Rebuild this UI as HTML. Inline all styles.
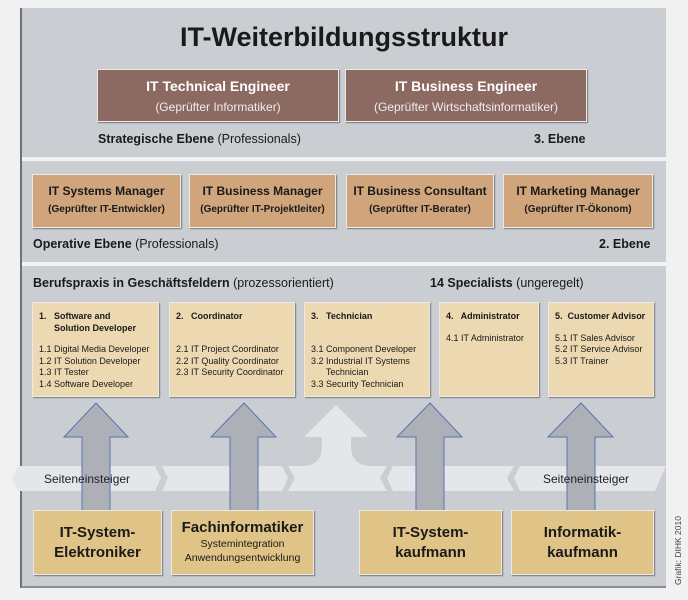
<!DOCTYPE html>
<html><head><meta charset="utf-8"><style>
*{margin:0;padding:0;box-sizing:border-box}
body{width:688px;height:600px;background:#f1f1f1;position:relative;overflow:hidden;font-family:"Liberation Sans",sans-serif;color:#1a1a1a}
.a{position:absolute}
.panel{left:20px;top:8px;width:646px;height:580px;background:#cacdd2;border-left:2px solid #6e7176;border-bottom:2px solid #8a8d92}
.sep{left:22px;width:644px;height:4px;background:#f1f2f3}
.b{position:absolute;text-align:center;box-shadow:1px 1px 1px #77797c;border:1px solid #eceae6;white-space:nowrap;overflow:hidden}
.top{background:#8c6a62;color:#fff;font-weight:bold;font-size:14px;line-height:20px;padding-top:6px}
.top span{font-weight:normal;font-size:12px;color:#eee}
.mid{background:#d0a57c;font-weight:bold;font-size:12px;line-height:17px;padding-top:8px}
.mid span{font-size:10px}
.sp{background:#ecd9b1;font-size:9px;line-height:11.5px;padding:8px 0 0 6px;text-align:left}
.sp b{display:block;margin-bottom:10px}
.bot{background:#dfc387;font-weight:bold;font-size:15px;line-height:20px}
.bot span{font-weight:normal;font-size:10.5px;line-height:14px;display:block}
.lbl{font-size:12.5px;font-weight:bold}
.lbl span{font-weight:normal}
</style></head><body>
<div class="a panel"></div>
<div class="a sep" style="top:157px"></div>
<div class="a sep" style="top:262px"></div>
<div class="a" style="left:0;width:688px;top:22px;text-align:center;font-size:27px;font-weight:bold;">IT-Weiterbildungsstruktur</div>

<div class="b top" style="left:97px;top:69px;width:242px;height:53px">IT Technical Engineer<br><span>(Geprüfter Informatiker)</span></div>
<div class="b top" style="left:345px;top:69px;width:242px;height:53px">IT Business Engineer<br><span>(Geprüfter Wirtschaftsinformatiker)</span></div>
<div class="a lbl" style="left:98px;top:132px">Strategische Ebene <span>(Professionals)</span></div>
<div class="a lbl" style="left:534px;top:132px">3. Ebene</div>

<div class="b mid" style="left:32px;top:174px;width:149px;height:54px">IT Systems Manager<br><span>(Geprüfter IT-Entwickler)</span></div>
<div class="b mid" style="left:189px;top:174px;width:147px;height:54px">IT Business Manager<br><span>(Geprüfter IT-Projektleiter)</span></div>
<div class="b mid" style="left:346px;top:174px;width:148px;height:54px">IT Business Consultant<br><span>(Geprüfter IT-Berater)</span></div>
<div class="b mid" style="left:503px;top:174px;width:150px;height:54px">IT Marketing Manager<br><span>(Geprüfter IT-Ökonom)</span></div>
<div class="a lbl" style="left:33px;top:237px">Operative Ebene <span>(Professionals)</span></div>
<div class="a lbl" style="left:599px;top:237px">2. Ebene</div>

<div class="a lbl" style="left:33px;top:276px">Berufspraxis in Geschäftsfeldern <span>(prozessorientiert)</span></div>
<div class="a lbl" style="left:430px;top:276px">14 Specialists <span>(ungeregelt)</span></div>

<div class="b sp" style="left:32px;top:302px;width:127px;height:95px"><b>1.&nbsp;&nbsp; Software and<br>&nbsp;&nbsp;&nbsp;&nbsp;&nbsp; Solution Developer</b>1.1 Digital Media Developer<br>1.2 IT Solution Developer<br>1.3 IT Tester<br>1.4 Software Developer</div>
<div class="b sp" style="left:169px;top:302px;width:126px;height:95px"><b>2.&nbsp;&nbsp; Coordinator<br>&nbsp;</b>2.1 IT Project Coordinator<br>2.2 IT Quality Coordinator<br>2.3 IT Security Coordinator</div>
<div class="b sp" style="left:304px;top:302px;width:126px;height:95px"><b>3.&nbsp;&nbsp; Technician<br>&nbsp;</b>3.1 Component Developer<br>3.2 Industrial IT Systems<br>&nbsp;&nbsp;&nbsp;&nbsp;&nbsp; Technician<br>3.3 Security Technician</div>
<div class="b sp" style="left:439px;top:302px;width:100px;height:95px"><b>4.&nbsp;&nbsp; Administrator</b>4.1 IT Administrator</div>
<div class="b sp" style="left:548px;top:302px;width:106px;height:95px"><b>5.&nbsp; Customer Advisor</b>5.1 IT Sales Advisor<br>5.2 IT Service Advisor<br>5.3 IT Trainer</div>

<svg class="a" style="left:0;top:0" width="688" height="600">
<path d="M322,450 V437 H304 L336,405 L368,437 H351 V450 Z" fill="#e4e6e9"/>
<path d="M322,446 Q322,466 302,466 H371 Q351,466 351,446 Z" fill="#e4e6e9"/>
<polygon points="5,466 655,466 666,466 655,491 5,491 18,478" fill="#e4e6e9"/>
<polygon points="155,466 162,466 168,478 162,491 155,491 161,478" fill="#cacdd2"/>
<polygon points="282,466 288,466 295,478 288,491 282,491 288,478" fill="#cacdd2"/>
<polygon points="393,466 387,466 380,478 387,491 393,491 387,478" fill="#cacdd2"/>
<polygon points="520,466 514,466 507,478 514,491 520,491 514,478" fill="#cacdd2"/>
<polygon points="666,466 680,466 668,478 680,491 666,491" fill="#f1f1f1"/>
<polygon points="5,466 18,466 18,491 5,491 12,478" fill="#f1f1f1"/>
<polygon points="18,466 30,466 30,491 18,491 12,478" fill="#e4e6e9"/>
<g fill="#adb1b7" stroke="#5a72b0" stroke-width="1">
<path d="M82,516 V437 H64 L96,403 L128,437 H110 V516"/>
<path d="M230,516 V437 H211 L244,403 L276,437 H258 V516"/>
<path d="M416,516 V437 H397 L430,403 L462,437 H444 V516"/>
<path d="M567,516 V437 H548 L581,403 L613,437 H595 V516"/>
</g>
<text x="44" y="483" font-family="Liberation Sans" font-size="12" fill="#222">Seiteneinsteiger</text>
<text x="543" y="483" font-family="Liberation Sans" font-size="12" fill="#222">Seiteneinsteiger</text>
<text transform="translate(681,585) rotate(-90)" font-family="Liberation Sans" font-size="8.5" fill="#444">Grafik: DIHK 2010</text>
</svg>

<div class="b bot" style="left:33px;top:510px;width:129px;height:65px;padding-top:12px">IT-System-<br>Elektroniker</div>
<div class="b bot" style="left:171px;top:510px;width:143px;height:65px;padding-top:8px;line-height:18px">Fachinformatiker<span>Systemintegration<br>Anwendungsentwicklung</span></div>
<div class="b bot" style="left:359px;top:510px;width:143px;height:65px;padding-top:12px">IT-System-<br>kaufmann</div>
<div class="b bot" style="left:511px;top:510px;width:143px;height:65px;padding-top:12px">Informatik-<br>kaufmann</div>
</body></html>
